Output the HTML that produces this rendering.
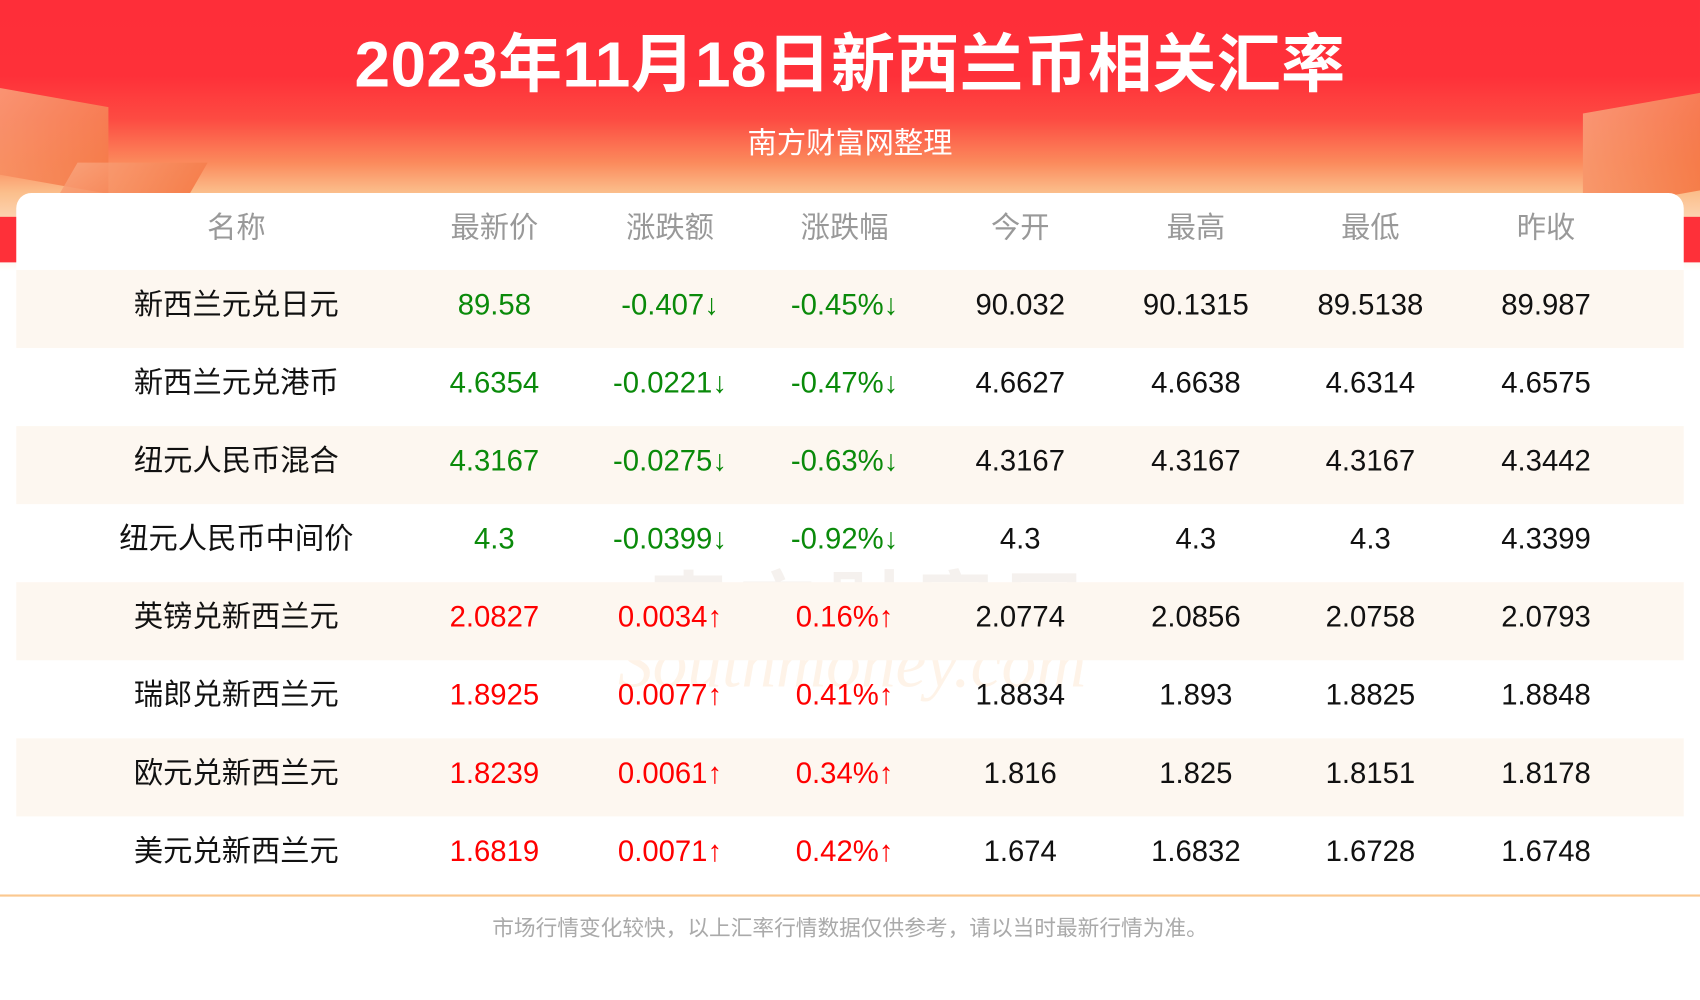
<!DOCTYPE html>
<html><head><meta charset="utf-8"><style>
html,body{margin:0;padding:0;width:1700px;height:1000px;overflow:hidden;background:#fff}
#wrap{position:absolute;left:0;top:0;width:1568px;height:922px;transform:scale(1.08418);transform-origin:0 0;font-family:"Liberation Sans","Noto Sans CJK SC",sans-serif;}
#bg{position:absolute;left:0;top:0;width:1568px;height:250px;background:linear-gradient(180deg,#fe2e39 0px,#fe3039 70px,#fd4b42 110px,#fb8a5c 150px,#fbbf8c 178px,#fff 250px)}
.deco{position:absolute;background:linear-gradient(135deg,#f9a37c,#f4723e);opacity:.85}
#title{position:absolute;left:0;width:1568px;top:12px;text-align:center;color:#fff;font-weight:bold;font-size:59px;letter-spacing:0.3px}
#sub{position:absolute;left:0;width:1568px;top:110px;text-align:center;color:#fff;font-size:27px}
#card{position:absolute;left:15px;top:178px;width:1538px;height:648px;background:#fff;border-radius:14px 14px 0 0}
.row{position:absolute;left:15px;width:1538px;height:72px}
.cell{position:absolute;top:-4px;height:72px;line-height:72px;text-align:center;width:240px;font-size:27px;color:#111;white-space:nowrap}
.hd .cell{color:#999;font-size:27px;line-height:64px;top:0}
.alt{background:#fdf7f0}
.g{color:#0a8a0a}.r{color:#f00}
#line{position:absolute;left:0;top:825px;width:1568px;height:2px;background:#fbc88f}
#foot{position:absolute;left:0;width:1568px;top:840px;text-align:center;color:#aaa;font-size:20px}
#wm{position:absolute;left:600px;top:505px;font-size:70px;color:rgba(200,180,160,.18);font-weight:bold;letter-spacing:12px}
#wm2{position:absolute;left:570px;top:575px;font-size:64px;font-style:italic;color:rgba(250,200,150,.22);font-family:"Liberation Serif",serif}
</style></head><body>
<div id="wrap">
<div id="bg"></div>
<div class="deco" style="left:0;top:90px;width:100px;height:80px;transform:skewY(10deg)"></div>
<div class="deco" style="left:60px;top:150px;width:120px;height:40px;transform:skewX(-30deg)"></div>
<div class="deco" style="left:1460px;top:95px;width:110px;height:90px;transform:skewY(-10deg)"></div>
<div style="position:absolute;left:0;top:200px;width:16px;height:42px;background:#fe3039"></div>
<div style="position:absolute;left:1552px;top:200px;width:16px;height:42px;background:#fe3039"></div>
<div id="title">2023年11月18日新西兰币相关汇率</div>
<div id="sub">南方财富网整理</div>
<div id="card"></div>
<div id="wm">南方财富网</div>
<div id="wm2">Southmoney.com</div>
<div id="rows"></div>
<div id="line"></div>
<div id="foot">市场行情变化较快，以上汇率行情数据仅供参考，请以当时最新行情为准。</div>
</div>
<script>
const headers=["名称","最新价","涨跌额","涨跌幅","今开","最高","最低","昨收"];
const names=["新西兰元兑日元","新西兰元兑港币","纽元人民币混合","纽元人民币中间价","英镑兑新西兰元","瑞郎兑新西兰元","欧元兑新西兰元","美元兑新西兰元"];
const latest=["89.58","4.6354","4.3167","4.3","2.0827","1.8925","1.8239","1.6819"];
const change=["-0.407","-0.0221","-0.0275","-0.0399","0.0034","0.0077","0.0061","0.0071"];
const pct=["-0.45%","-0.47%","-0.63%","-0.92%","0.16%","0.41%","0.34%","0.42%"];
const open=["90.032","4.6627","4.3167","4.3","2.0774","1.8834","1.816","1.674"];
const high=["90.1315","4.6638","4.3167","4.3","2.0856","1.893","1.825","1.6832"];
const low=["89.5138","4.6314","4.3167","4.3","2.0758","1.8825","1.8151","1.6728"];
const prev=["89.987","4.6575","4.3442","4.3399","2.0793","1.8848","1.8178","1.6748"];
const centers=[218,456,618,779,941,1103,1264,1426];
const colNames=["name","latest","change","change-pct","open","high","low","prev-close"];
const rowsEl=document.getElementById('rows');
function mkRow(top,vals,cls,idx){
  const r=document.createElement('div');
  r.className='row '+cls;
  r.style.top=top+'px';
  
  
  vals.forEach((v,i)=>{
    const c=document.createElement('div');
    c.className='cell';
    c.style.left=(centers[i]-15-120)+'px';
    c.textContent=v;
    if(idx>=0&&i>=1&&i<=3){c.classList.add(change[idx][0]==='-'?'g':'r');}
    
    
    r.appendChild(c);
  });
  rowsEl.appendChild(r);
}
mkRow(178,headers,'hd',-1);
names.forEach((n,i)=>{
  const arrow=change[i][0]==='-'?'↓':'↑';
  mkRow(249+i*72,[n,latest[i],change[i]+arrow,pct[i]+arrow,open[i],high[i],low[i],prev[i]],i%2===0?'alt':'',i);
});
</script>
</body></html>
